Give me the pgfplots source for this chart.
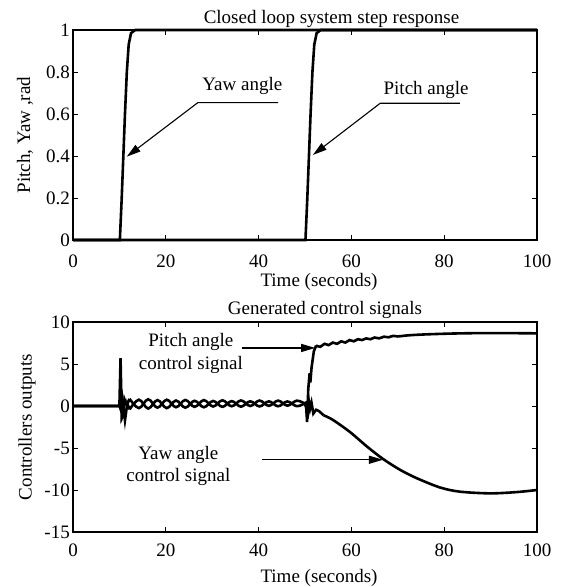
\documentclass[border=0pt]{standalone}
\usepackage{fontspec}
\setmainfont{Liberation Serif}
\usepackage{pgfplots}
\pgfplotsset{compat=1.18}
\usetikzlibrary{arrows.meta}
\newcommand\fs{\fontsize{19bp}{23bp}\selectfont}
\pgfplotsset{
  myax/.style={
    scale only axis, width=464bp, height=210bp, anchor=south west,
    xmin=0, xmax=100, xtick={0,20,40,60,80,100}, xticklabels={0,20,40,60,80,100},
    tick align=inside, major tick length=5bp,
    every tick/.style={black, line width=0.9bp},
    axis line style={line width=1.1bp},
    /pgf/number format/assume math mode=true,
    tick label style={font=\fs},
    yticklabel style={anchor=east, inner sep=0pt, xshift=-3bp},
    xticklabel style={anchor=north, inner sep=0pt},
    clip=false,
  },
}
\tikzset{
  curve/.style={black, line width=2.6bp},
  ann/.style={black, line width=1.1bp, -{Triangle[length=14bp,width=8bp]}},
}
\begin{document}
\fs
\begin{tikzpicture}[font=\fs]
\path[use as bounding box] (0,0) rectangle (563bp,587bp);
% ---------------- top axis
\begin{axis}[myax, at={(73bp,347bp)},
  ymin=0, ymax=1, ytick={0,0.2,0.4,0.6,0.8,1}, yticklabels={0,0.2,0.4,0.6,0.8,1},
  xticklabel style={yshift=-15bp}]
\addplot[curve] coordinates {(0,0)(10.1,0)(10.5,0.2)(10.85,0.4)(11.2,0.6)(11.6,0.8)(12.0,0.93)(12.5,0.985)(13.4,1)(100,1)};
\addplot[curve] coordinates {(0,0)(50.1,0)(50.5,0.2)(50.85,0.4)(51.2,0.6)(51.6,0.8)(52.0,0.93)(52.5,0.985)(53.4,1)(100,1)};
\node[anchor=base] at (axis cs:36.5,0.714) {Yaw angle};
\draw[ann] (axis cs:44.2,0.654) -- (axis cs:26.9,0.654) -- (axis cs:11.6,0.397);
\node[anchor=base] at (axis cs:76.1,0.694) {Pitch angle};
\draw[ann] (axis cs:83.4,0.651) -- (axis cs:66.2,0.651) -- (axis cs:51.7,0.405);
\end{axis}
% ---------------- bottom axis
\begin{axis}[myax, at={(73bp,55bp)},
  ymin=-15, ymax=10, ytick={-15,-10,-5,0,5,10}, yticklabels={-15,-10,-5,0,5,10},
  xticklabel style={yshift=-12bp}]
% pitch control signal
\addplot[curve] coordinates {(0,0)(10.0,0)(10.25,5.7)(10.5,-1.5)(10.75,-1.2)(11.1,0.8)(11.6,0.1)(12.2,0.85)};
\addplot[curve, smooth, tension=0.6] coordinates {(12.2,0.85)(14.2,-0.25)(16.2,0.8)(18.2,-0.2)(20.2,0.75)(22.2,-0.15)(24.2,0.72)(26.2,-0.1)(28.2,0.7)(30.2,-0.06)(32.2,0.68)(34.2,-0.03)(36.2,0.66)(38.2,0.0)(40.2,0.65)(42.2,0.02)(44.2,0.64)(46.2,0.04)(48.2,0.63)(49.9,0.3)};
\addplot[curve] coordinates {(49.9,0.3)(50.2,0.4)(50.45,-1.9)(50.7,2.0)(51.0,3.9)(51.15,2.8)(51.4,4.5)(51.9,6.5)(52.4,7.2)};
\addplot[curve, smooth, tension=0.6] coordinates {(52.4,7.2)(53.3,7.05)(54.2,7.4)(55.1,7.25)(56.0,7.55)(56.9,7.4)(57.8,7.7)(58.7,7.55)(59.6,7.85)(60.5,7.7)(61.4,7.95)(62.3,7.85)(63.2,8.05)(64.1,7.95)(65,8.15)(66,8.05)(67,8.25)(68,8.18)(69,8.35)(70,8.28)(72,8.4)(75,8.5)(80,8.6)(85,8.66)(90,8.68)(95,8.67)(100,8.65)};
% yaw control signal
\addplot[curve] coordinates {(0,0)(10.0,0)(10.2,-0.3)(10.6,1.0)(11.2,-1.7)(11.7,0.3)(12.2,-0.4)};
\addplot[curve, smooth, tension=0.6] coordinates {(12.2,-0.4)(14.2,0.75)(16.2,-0.3)(18.2,0.7)(20.2,-0.25)(22.2,0.65)(24.2,-0.2)(26.2,0.62)(28.2,-0.15)(30.2,0.6)(32.2,-0.1)(34.2,0.58)(36.2,-0.08)(38.2,0.56)(40.2,-0.05)(42.2,0.55)(44.2,-0.03)(46.2,0.54)(48.2,-0.02)(49.9,0.3)};
\addplot[curve] coordinates {(49.9,0.3)(50.3,-0.2)(50.55,-1.5)(50.8,0.7)(51.1,-0.3)(51.4,0.4)(51.8,-0.9)(52.4,-0.45)(53.0,-0.6)(54.0,-1.1)};
\addplot[curve, smooth] coordinates {(54.0,-1.1)(56,-1.65)(59.7,-3.1)(63.3,-4.8)(66.8,-6.3)(70.5,-7.6)(74.1,-8.6)(79.1,-9.7)(83.4,-10.2)(89.9,-10.4)(95.6,-10.25)(100,-10.0)};
\node[anchor=base] at (axis cs:25.4,7.03) {Pitch angle};
\node[anchor=base] at (axis cs:25.4,4.38) {control signal};
\draw[ann] (axis cs:36.4,6.91) -- (axis cs:52.2,6.91);
\node[anchor=base] at (axis cs:22.7,-6.36) {Yaw angle};
\node[anchor=base] at (axis cs:22.7,-9.02) {control signal};
\draw[ann] (axis cs:40.7,-6.4) -- (axis cs:66.8,-6.4);
\end{axis}
% ---------------- titles and labels
\node[anchor=base] at (331.5bp,563bp) {Closed loop system step response};
\node[anchor=base] at (319bp,300bp) {Time (seconds)};
\node[rotate=90] at (25bp,452bp) {Pitch, Yaw ,rad};
\node[anchor=base] at (325bp,272bp) {Generated control signals};
\node[anchor=base] at (319bp,4.5bp) {Time (seconds)};
\node[rotate=90] at (27bp,160bp) {Controllers outputs};
\end{tikzpicture}
\end{document}
